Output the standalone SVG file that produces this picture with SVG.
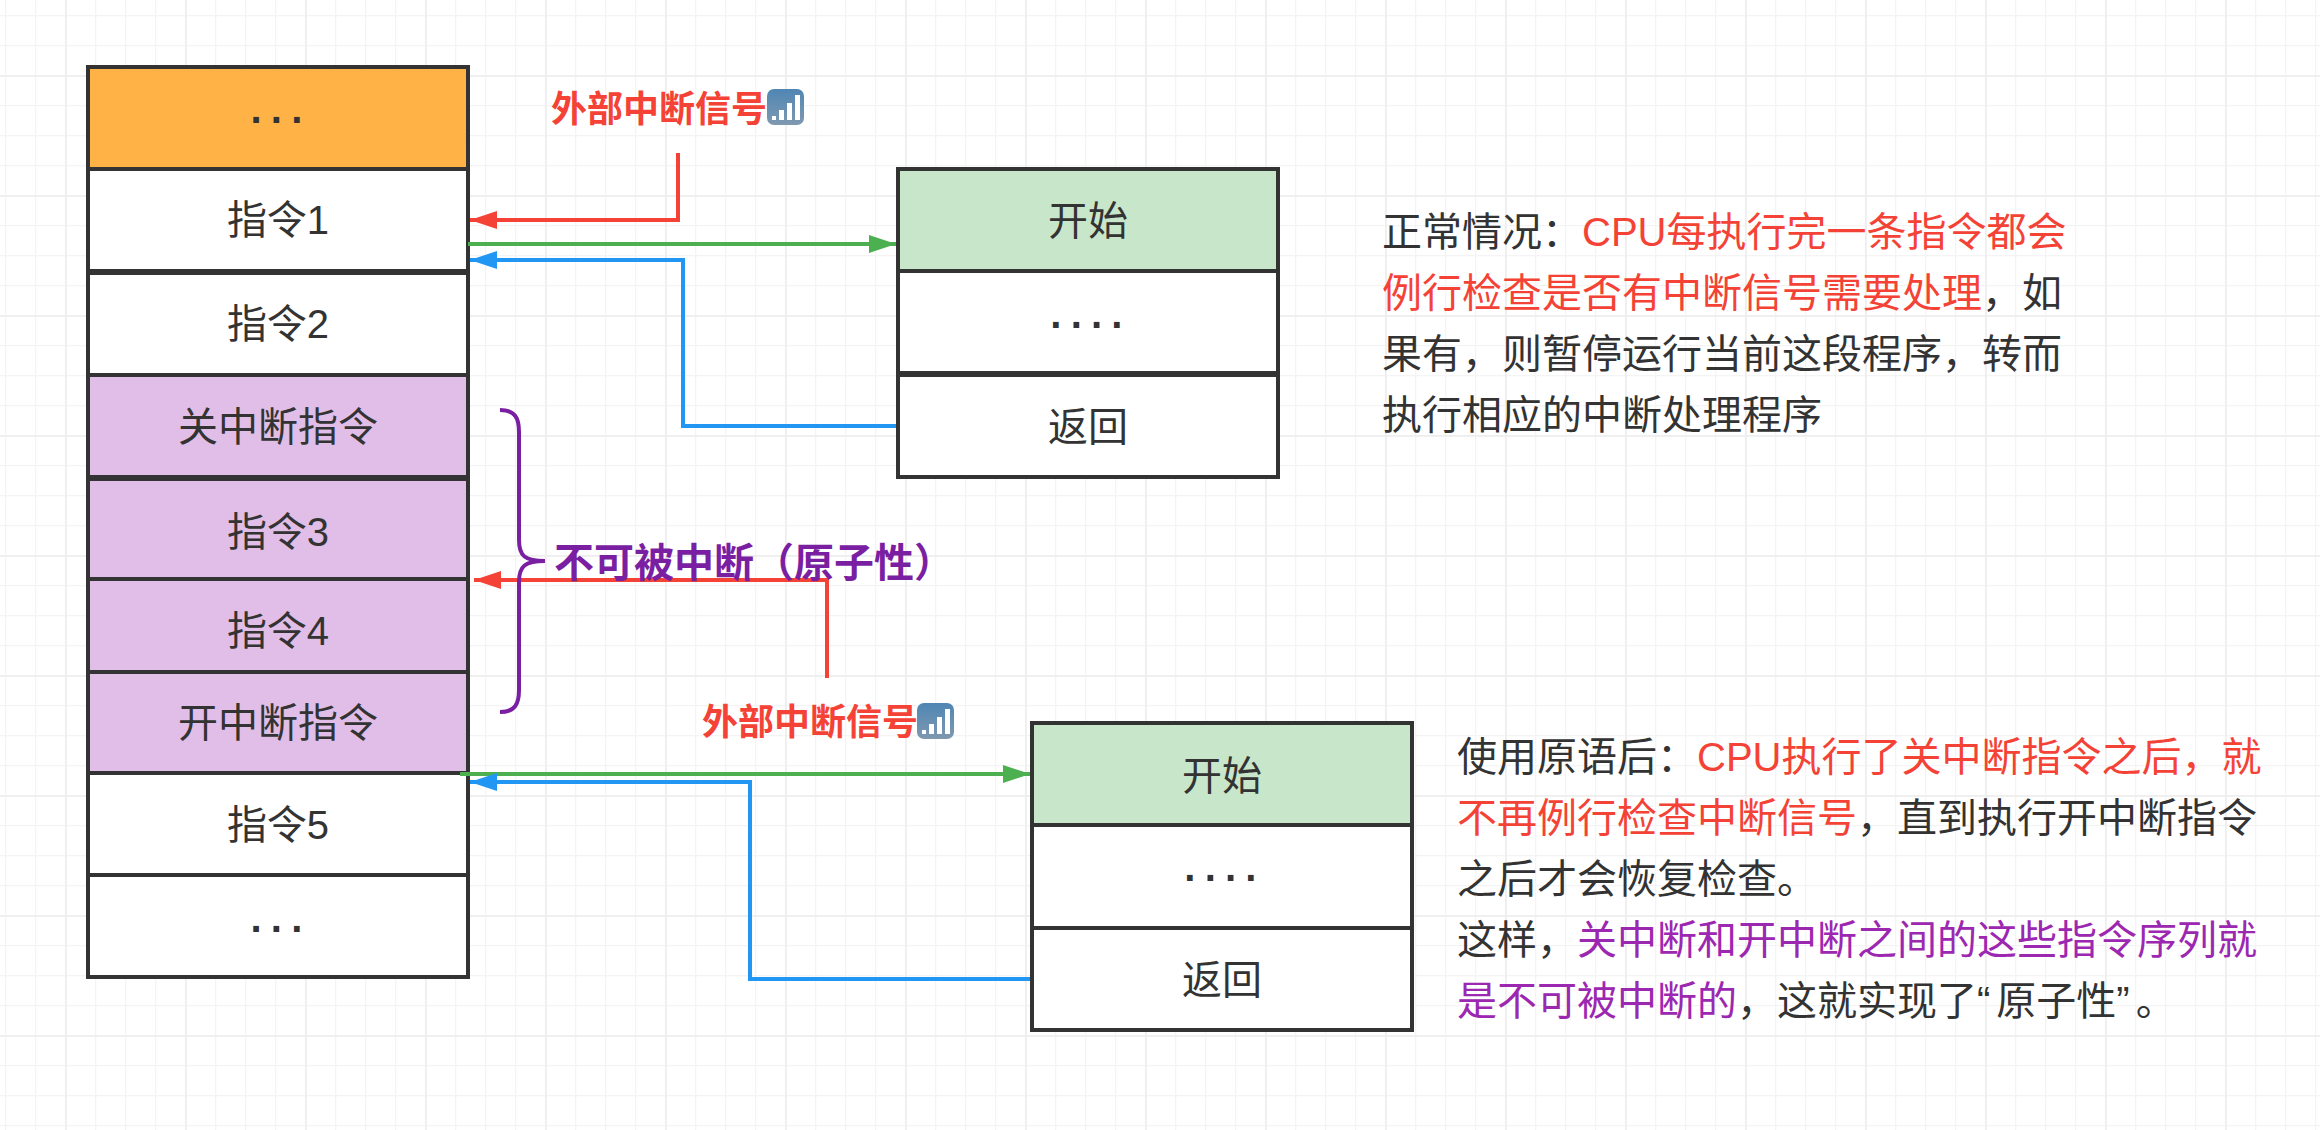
<svg xmlns="http://www.w3.org/2000/svg" width="2320" height="1130" viewBox="0 0 2320 1130">
<defs>
<pattern id="minor" x="5" y="15" width="30" height="30" patternUnits="userSpaceOnUse"><path d="M0 0V30M0 0H30" fill="none" stroke="#f4f4f4" stroke-width="2.5"/></pattern>
<pattern id="major" x="65" y="75" width="120" height="120" patternUnits="userSpaceOnUse"><path d="M0 0V120M0 0H120" fill="none" stroke="#eeeeee" stroke-width="3.5"/></pattern>
<marker id="ar" markerUnits="userSpaceOnUse" markerWidth="28" markerHeight="20" refX="27" refY="10" orient="auto"><path d="M0 1L27 10L0 19Z" fill="#f44336"/></marker>
<marker id="ag" markerUnits="userSpaceOnUse" markerWidth="28" markerHeight="20" refX="27" refY="10" orient="auto"><path d="M0 1L27 10L0 19Z" fill="#4caf50"/></marker>
<marker id="ab" markerUnits="userSpaceOnUse" markerWidth="28" markerHeight="20" refX="27" refY="10" orient="auto"><path d="M0 1L27 10L0 19Z" fill="#2196f3"/></marker>
<linearGradient id="sg" x1="0" y1="0" x2="0" y2="1"><stop offset="0" stop-color="#4f86b4"/><stop offset="1" stop-color="#7f99b0"/></linearGradient>
<symbol id="sig" viewBox="0 0 37 36"><rect width="37" height="36" rx="7" fill="url(#sg)"/><path d="M5 27h4v4h-4zM12 21h5v10h-5zM20 14h5v17h-5zM28 6h5v25h-5z" fill="#fff"/></symbol>
</defs>
<style>
rect.c{stroke:#333;stroke-width:4}
.w{fill:#fff}.o{fill:#ffb347}.p{fill:#e1bee7}.g{fill:#c8e6c9}
.t{stroke:#333;stroke-width:6;fill:none}
text{font-family:"Liberation Sans","Noto Sans CJK SC",sans-serif;fill:#333;font-size:40px}
.m{text-anchor:middle}
.d{font-weight:700;letter-spacing:7px}
.conn path{fill:none;stroke-width:4}
.lr{font-weight:700;font-size:36px;fill:#f44336}
.lp{font-weight:700;font-size:40px;fill:#7b1fa2}
.r{fill:#f44336}.v{fill:#9c27b0}
</style>
<rect width="2320" height="1130" fill="#fff"/>
<rect width="2320" height="1130" fill="url(#minor)"/>
<rect width="2320" height="1130" fill="url(#major)"/>
<g id="n0"><rect class="c o" x="88" y="67" width="380" height="102"/><text class="m d" x="281" y="134">···</text></g>
<g id="n1"><rect class="c w" x="88" y="169" width="380" height="103"/><text class="m" x="278" y="234">指令1</text></g>
<g id="n2"><rect class="c w" x="88" y="272" width="380" height="103"/><path class="t" d="M88 272H468"/><text class="m" x="278" y="338">指令2</text></g>
<g id="n3"><rect class="c p" x="88" y="375" width="380" height="103"/><text class="m" x="278" y="441">关中断指令</text></g>
<g id="n4"><rect class="c p" x="88" y="478" width="380" height="101"/><path class="t" d="M88 478H468"/><text class="m" x="278" y="546">指令3</text></g>
<g id="n5"><rect class="c p" x="88" y="579" width="380" height="93"/><text class="m" x="278" y="645">指令4</text></g>
<g id="n6"><rect class="c p" x="88" y="672" width="380" height="101"/><text class="m" x="278" y="737">开中断指令</text></g>
<g id="n7"><rect class="c w" x="88" y="773" width="380" height="102"/><text class="m" x="278" y="839">指令5</text></g>
<g id="n8"><rect class="c w" x="88" y="875" width="380" height="102"/><text class="m d" x="281" y="943">···</text></g>
<g id="n9"><rect class="c g" x="898" y="169" width="380" height="102"/><text class="m" x="1088" y="235">开始</text></g>
<g id="n10"><rect class="c w" x="898" y="271" width="380" height="103"/><text class="m d" x="1091" y="339">····</text></g>
<g id="n11"><rect class="c w" x="898" y="374" width="380" height="103"/><path class="t" d="M898 374H1278"/><text class="m" x="1088" y="441">返回</text></g>
<g id="n12"><rect class="c g" x="1032" y="723" width="380" height="102"/><text class="m" x="1222" y="790">开始</text></g>
<g id="n13"><rect class="c w" x="1032" y="825" width="380" height="103"/><text class="m d" x="1225" y="892">····</text></g>
<g id="n14"><rect class="c w" x="1032" y="928" width="380" height="102"/><text class="m" x="1222" y="994">返回</text></g>
<g class="conn" id="connectors">
<path d="M678 153V220H470" stroke="#f44336" marker-end="url(#ar)"/>
<path d="M468 244H896" stroke="#4caf50" marker-end="url(#ag)"/>
<path d="M896 426H683V260H470" stroke="#2196f3" marker-end="url(#ab)"/>
<path d="M827 678V580H474" stroke="#f44336" marker-end="url(#ar)"/>
<path d="M460 774H1030" stroke="#4caf50" marker-end="url(#ag)"/>
<path d="M1030 979H750V782H470" stroke="#2196f3" marker-end="url(#ab)"/>
<path d="M500 410C515 410 519 418 519 432V540C519 556 525 561 545 561C525 561 519 566 519 582V690C519 704 515 712 500 712" stroke="#7b1fa2"/>
</g>
<g id="l1"><text class="lr" x="551" y="122">外部中断信号</text><use href="#sig" x="767" y="89" width="37" height="36"/></g>
<g id="l2"><text class="lr" x="702" y="735">外部中断信号</text><use href="#sig" x="917" y="703" width="37" height="36"/></g>
<text class="lp" x="554" y="577">不可被中断（原子性）</text>
<text x="1382" y="246">正常情况：<tspan class="r">CPU每执行完一条指令都会</tspan></text>
<text x="1382" y="307"><tspan class="r">例行检查是否有中断信号需要处理</tspan>，如</text>
<text x="1382" y="368">果有，则暂停运行当前这段程序，转而</text>
<text x="1382" y="429">执行相应的中断处理程序</text>
<text x="1457" y="771">使用原语后：<tspan class="r">CPU执行了关中断指令之后，就</tspan></text>
<text x="1457" y="832"><tspan class="r">不再例行检查中断信号</tspan>，直到执行开中断指令</text>
<text x="1457" y="893">之后才会恢复检查。</text>
<text x="1457" y="954">这样，<tspan class="v">关中断和开中断之间的这些指令序列就</tspan></text>
<text x="1457" y="1015"><tspan class="v">是不可被中断的</tspan>，这就实现了“<tspan dx="6">原子性</tspan>”<tspan dx="6">。</tspan></text>
</svg>
